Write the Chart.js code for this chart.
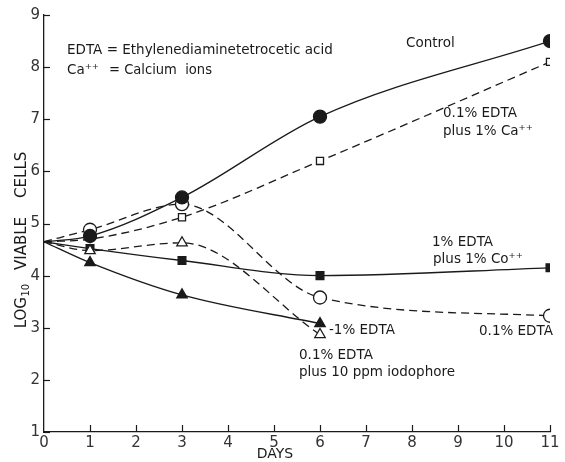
<!DOCTYPE html>
<html><head><meta charset="utf-8">
<script src="https://cdn.jsdelivr.net/npm/chart.js@4"></script>
<style>html,body{margin:0;padding:0;background:#fff}#wrap{width:565px;height:462px}</style>
</head><body><div id="wrap"><canvas id="c" width="565" height="462"></canvas></div>
<script>
const days = [0, 1, 3, 6, 11];
const control = [4.65, 4.76, 5.5, 7.05, 8.5];
const edta01Ca = [4.65, 4.7, 5.12, 6.2, 8.1];
const edta01 = [4.65, 4.88, 5.37, 3.58, 3.23];
const edta01Iodo = [4.65, 4.48, 4.63, 2.87, null];
const edta1 = [4.65, 4.25, 3.63, 3.08, null];
const edta1Co = [4.65, 4.52, 4.29, 4.0, 4.15];
const xTickValues = [1, 2, 3, 4, 5, 6, 7, 8, 9, 10, 11];
const yTickValues = [1, 2, 3, 4, 5, 6, 7, 8, 9];

const INK = '#1a1a1a';
const FONT = '"DejaVu Sans", sans-serif';

function pts(arr) {
  return days.map((d, i) => ({ x: d, y: arr[i] })).filter(p => p.y !== null);
}
function ds(label, arr, style, filled, radius, dashed, hideIdx) {
  const hidden = hideIdx || [0];
  return {
    label, data: pts(arr),
    borderColor: INK, borderWidth: 1.3,
    borderDash: dashed ? [8, 5] : [],
    pointStyle: style,
    pointBackgroundColor: filled ? INK : '#fff',
    pointBorderColor: INK, pointBorderWidth: 1.3,
    pointRadius: c => hidden.includes(c.dataIndex) ? 0 : radius,
    cubicInterpolationMode: 'monotone',
    fill: false
  };
}

const annot = {
  id: 'annot',
  afterDraw(chart) {
    const ctx = chart.ctx;
    const xs = chart.scales.x, ys = chart.scales.y;
    const a = chart.chartArea;
    ctx.save();
    ctx.strokeStyle = INK; ctx.lineWidth = 1.2;
    yTickValues.forEach(v => {
      const py = Math.round(ys.getPixelForValue(v)) + 0.5;
      ctx.beginPath(); ctx.moveTo(a.left, py); ctx.lineTo(a.left + 6, py); ctx.stroke();
    });
    xTickValues.forEach(v => {
      const px = Math.round(xs.getPixelForValue(v)) + 0.5;
      ctx.beginPath(); ctx.moveTo(px, a.bottom - 7); ctx.lineTo(px, a.bottom); ctx.stroke();
    });
    ctx.fillStyle = INK;
    ctx.textBaseline = 'middle';
    ctx.textAlign = 'left';
    const t = (s, x, y, size, w) => {
      ctx.font = size + 'px ' + FONT;
      if (w) ctx.fillText(s, x, y, w); else ctx.fillText(s, x, y);
    };
    t('EDTA = Ethylenediaminetetrocetic acid', 67, 50, 13.5, 266);
    t('Ca\u207A\u207A', 67, 70, 13.5);
    t('= Calcium  ions', 109, 70, 13.5, 103);
    t('Control', 406, 43, 13.5, 50);
    t('0.1% EDTA', 443, 113, 13.5, 78);
    t('plus 1% Ca\u207A\u207A', 443, 131, 13.5, 90);
    t('1% EDTA', 432, 242, 13.5, 70);
    t('plus 1% Co\u207A\u207A', 433, 259, 13.5, 92);
    t('-1% EDTA', 329, 330, 13.5, 70);
    t('0.1% EDTA', 479, 331, 13.5, 75);
    t('0.1% EDTA', 299, 355, 13.5, 78);
    t('plus 10 ppm iodophore', 299, 372, 13.5, 156);
    ctx.textAlign = 'center';
    t('DAYS', 275, 454, 14, 48);
    // y title rotated with subscript
    ctx.translate(22, 240);
    ctx.rotate(-Math.PI / 2);
    ctx.textAlign = 'left';
    ctx.font = '15px ' + FONT;
    const w1 = ctx.measureText('LOG').width;
    ctx.font = '10px ' + FONT;
    const w2 = ctx.measureText('10').width;
    ctx.font = '15px ' + FONT;
    const rest = '   VIABLE    CELLS';
    const w3 = ctx.measureText(rest).width;
    const total = w1 + w2 + w3;
    const x0 = -total / 2;
    ctx.fillText('LOG', x0, 0);
    ctx.font = '10px ' + FONT;
    ctx.fillText('10', x0 + w1 + 0.5, 4);
    ctx.font = '15px ' + FONT;
    ctx.fillText(rest, x0 + w1 + w2, 0);
    ctx.restore();
  }
};

new Chart(document.getElementById('c'), {
  type: 'line',
  data: {
    datasets: [
      ds('Control', control, 'circle', true, 6.5, false),
      ds('0.1% EDTA plus 1% Ca++', edta01Ca, 'rect', false, 5, true, [0, 1]),
      ds('0.1% EDTA', edta01, 'circle', false, 6.5, true),
      ds('0.1% EDTA plus 10 ppm iodophore', edta01Iodo, 'triangle', false, 6, true),
      ds('1% EDTA', edta1, 'triangle', true, 6, false),
      ds('1% EDTA plus 1% Co++', edta1Co, 'rect', true, 5.5, false)
    ]
  },
  options: {
    responsive: false, animation: false, devicePixelRatio: 1,
    layout: { padding: { top: 15, right: 15, left: 0, bottom: 0 } },
    plugins: { legend: { display: false }, tooltip: { enabled: false } },
    scales: {
      x: {
        type: 'linear', min: 0, max: 11,
        ticks: { stepSize: 1, color: '#333', font: { family: FONT, size: 15 }, padding: 2, maxRotation: 0 },
        grid: { display: false, drawTicks: false },
        border: { display: true, color: INK, width: 1.3 },
        afterFit: s => { s.height = 30; }
      },
      y: {
        min: 1, max: 9,
        ticks: { stepSize: 1, color: '#333', font: { family: FONT, size: 15 }, padding: 4 },
        grid: { display: false, drawTicks: false },
        border: { display: true, color: INK, width: 1.3 },
        afterFit: s => { s.width = 44; }
      }
    }
  },
  plugins: [annot]
});
</script></body></html>
